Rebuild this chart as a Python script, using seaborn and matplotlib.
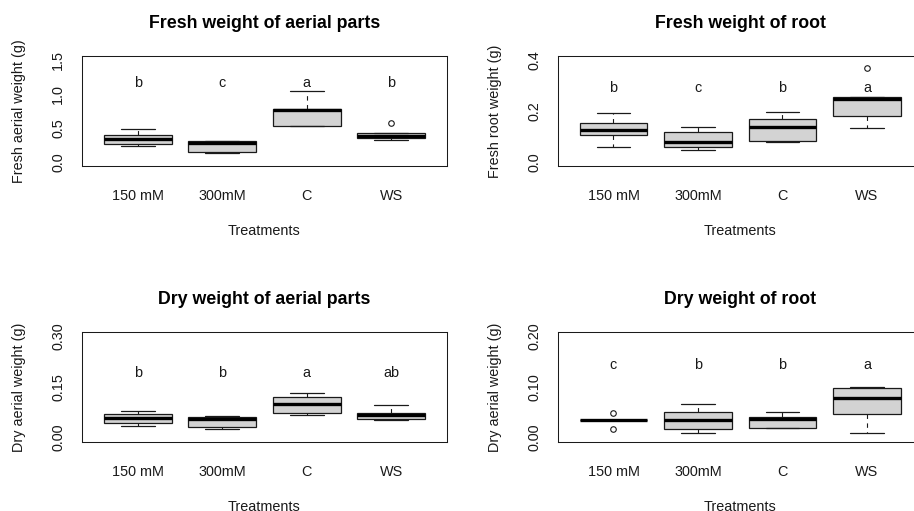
import numpy as np
import pandas as pd
import matplotlib
matplotlib.use("Agg")
import matplotlib.pyplot as plt
import seaborn as sns

# ---- data: five plants per treatment ----
treatments = ["150 mM", "300mM", "C", "WS"]

fresh_aerial = [
    [0.235, 0.265, 0.343, 0.397, 0.485],
    [0.132, 0.147, 0.275, 0.304, 0.304],
    [0.535, 0.535, 0.770, 0.785, 1.040],
    [0.320, 0.355, 0.385, 0.420, 0.570],
]
fresh_root = [
    [0.059, 0.106, 0.127, 0.152, 0.192],
    [0.048, 0.059, 0.080, 0.116, 0.139],
    [0.080, 0.084, 0.139, 0.170, 0.197],
    [0.133, 0.182, 0.246, 0.255, 0.368],
]
dry_aerial = [
    [0.036, 0.042, 0.057, 0.070, 0.079],
    [0.025, 0.032, 0.056, 0.061, 0.063],
    [0.066, 0.072, 0.100, 0.120, 0.133],
    [0.052, 0.056, 0.067, 0.074, 0.096],
]
dry_root = [
    [0.018, 0.035, 0.035, 0.035, 0.049],
    [0.010, 0.017, 0.035, 0.050, 0.067],
    [0.020, 0.020, 0.037, 0.040, 0.050],
    [0.010, 0.046, 0.078, 0.099, 0.101],
]

fresh_aerial_letters = ["b", "c", "a", "b"]
fresh_root_letters = ["b", "c", "b", "a"]
dry_aerial_letters = ["b", "b", "a", "ab"]
dry_root_letters = ["c", "b", "b", "a"]

# ---- style ----
sns.set_style("white")
plt.rcParams["font.family"] = ["Liberation Sans", "DejaVu Sans"]
INK = "#1a1a1a"
BOX_FILL = "#D3D3D3"
FS = 10.4
FIG_W, FIG_H = 914, 511

fig = plt.figure(figsize=(FIG_W / 100, FIG_H / 100), dpi=100)


def px_axes(left, top, width, height):
    return fig.add_axes([left / FIG_W, 1 - (top + height) / FIG_H,
                         width / FIG_W, height / FIG_H])


panels = [
    dict(title="Fresh weight of aerial parts", ylabel="Fresh aerial weight (g)",
         values=fresh_aerial, letters=fresh_aerial_letters, letter_y=1.2,
         ymax=1.5, ticks=[0, 0.5, 1.0, 1.5],
         labels=["0.0", "0.5", "1.0", "1.5"], rect=(82, 56, 365, 110)),
    dict(title="Fresh weight of root", ylabel="Fresh root weight (g)",
         values=fresh_root, letters=fresh_root_letters, letter_y=0.3,
         ymax=0.4, ticks=[0, 0.1, 0.2, 0.3, 0.4],
         labels=["0.0", "", "0.2", "", "0.4"], rect=(557.7, 56, 365, 110)),
    dict(title="Dry weight of aerial parts", ylabel="Dry aerial weight (g)",
         values=dry_aerial, letters=dry_aerial_letters, letter_y=0.2,
         ymax=0.3, ticks=[0, 0.05, 0.10, 0.15, 0.20, 0.25, 0.30],
         labels=["0.00", "", "", "0.15", "", "", "0.30"], rect=(82, 332.5, 365, 109.2)),
    dict(title="Dry weight of root", ylabel="Dry aerial weight (g)",
         values=dry_root, letters=dry_root_letters, letter_y=0.15,
         ymax=0.2, ticks=[0, 0.05, 0.10, 0.15, 0.20],
         labels=["0.00", "", "0.10", "", "0.20"], rect=(557.7, 332.5, 365, 109.2)),
]

for p in panels:
    ax = px_axes(*p["rect"])
    df = pd.DataFrame({
        "Treatment": np.repeat(treatments, [len(v) for v in p["values"]]),
        "value": np.concatenate(p["values"]),
    })
    sns.boxplot(
        data=df, x="Treatment", y="value", order=treatments, ax=ax,
        width=0.8, color=BOX_FILL, saturation=1, linecolor=INK, linewidth=0.9,
        whis=1.5,
        medianprops=dict(linewidth=2.4, color="black"),
        whiskerprops=dict(linestyle=(0, (4, 4)), linewidth=0.8),
        capprops=dict(linewidth=0.9),
        flierprops=dict(marker="o", markersize=4, markerfacecolor="none",
                        markeredgecolor=INK, markeredgewidth=0.8),
    )

    # axis ranges padded 4% like base R graphics
    ax.set_xlim(-0.5 - 0.16, 3.5 + 0.16)
    pad = p["ymax"] * 0.04
    ax.set_ylim(-pad, p["ymax"] + pad)

    ax.set_xticks(range(len(treatments)))
    ax.set_xticklabels(treatments)
    ax.set_yticks(p["ticks"])
    ax.set_yticklabels(p["labels"])
    for lab in ax.get_yticklabels():
        lab.set_rotation(90)
        lab.set_va("center")
        lab.set_ha("right")

    ax.tick_params(axis="both", length=7, width=0.75, color=INK,
                   labelsize=FS, labelcolor=INK)
    ax.tick_params(axis="x", pad=9.5)
    ax.tick_params(axis="y", pad=5)
    for s in ax.spines.values():
        s.set_visible(True)
        s.set_color(INK)
        s.set_linewidth(0.75)

    ax.set_xlabel("Treatments", fontsize=FS, color=INK)
    ax.xaxis.label.set_va("center")
    ax.xaxis.set_label_coords(0.5, -65 / p["rect"][3])
    ax.set_ylabel(p["ylabel"], fontsize=FS, color=INK)
    ax.yaxis.label.set_va("center")
    ax.yaxis.set_label_coords(-63 / p["rect"][2], 0.5)

    ax.annotate(p["title"], xy=(0.5, 1), xycoords="axes fraction",
                xytext=(0, 20.5), textcoords="offset points",
                ha="center", va="baseline", fontsize=12.8,
                fontweight="bold", color="black")

    for i, letter in enumerate(p["letters"]):
        ax.annotate(letter, xy=(i, p["letter_y"]), xycoords="data",
                    xytext=(0, -2), textcoords="offset points",
                    ha="center", va="center", fontsize=FS, color=INK)

fig.savefig("out.png", dpi=100)
